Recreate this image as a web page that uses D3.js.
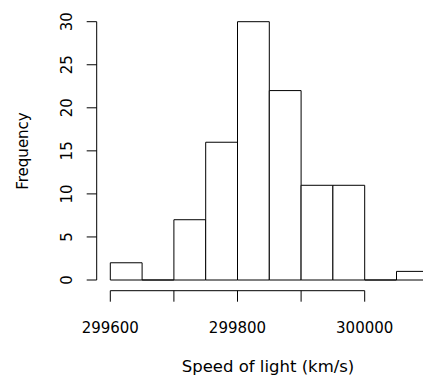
<!DOCTYPE html>
<html><head><meta charset="utf-8">
<script src="https://cdn.jsdelivr.net/npm/d3@7"></script>
<style>body{margin:0;background:#fff}svg{display:block}text{font-family:"DejaVu Sans",sans-serif;fill:#000}</style>
</head><body>
<script>
const binStarts = [299600,299650,299700,299750,299800,299850,299900,299950,300000,300050];
const binWidth = 50;
const counts = [2,0,7,16,30,22,11,11,0,1];
const xTicks = [299600,299700,299800,299900,300000];
const xTickLabels = ["299600","","299800","","300000"];
const yTicks = [0,5,10,15,20,25,30];
const xTitle = "Speed of light (km/s)";
const yTitle = "Frequency";

const W=423,H=376;
const svg=d3.select("body").append("svg").attr("width",W).attr("height",H);
const x=d3.scaleLinear().domain([299600,300000]).range([110.3,364.7]);
const y=d3.scaleLinear().domain([0,30]).range([280,21.7]);

// bars (paths so zero-count bins still show as a line)
svg.append("g").selectAll("path").data(binStarts.map((s,i)=>({s,c:counts[i]}))).join("path")
  .attr("d",d=>{const x0=x(d.s),x1=x(d.s+binWidth),y0=y(0),y1=y(d.c);
    return `M${x0},${y0}V${y1}H${x1}V${y0}Z`;})
  .attr("fill","#fff").attr("stroke","#000").attr("stroke-width",1);

// x axis
const gx=svg.append("g");
gx.append("line").attr("x1",x(xTicks[0])).attr("x2",x(xTicks[xTicks.length-1])).attr("y1",290.7).attr("y2",290.7).attr("stroke","#000");
gx.selectAll("line.t").data(xTicks).join("line").attr("class","t")
  .attr("x1",d=>x(d)).attr("x2",d=>x(d)).attr("y1",290.7).attr("y2",301.7).attr("stroke","#000");
gx.selectAll("text").data(xTicks).join("text")
  .attr("x",d=>x(d)).attr("y",333).attr("text-anchor","middle").attr("font-size",15)
  .text((d,i)=>xTickLabels[i]);

// y axis
const gy=svg.append("g");
gy.append("line").attr("x1",96.7).attr("x2",96.7).attr("y1",y(0)).attr("y2",y(30)).attr("stroke","#000");
gy.selectAll("line.t").data(yTicks).join("line").attr("class","t")
  .attr("x1",86.7).attr("x2",96.7).attr("y1",d=>y(d)).attr("y2",d=>y(d)).attr("stroke","#000");
gy.selectAll("text").data(yTicks).join("text")
  .attr("transform",d=>`translate(72,${y(d)}) rotate(-90)`).attr("text-anchor","middle").attr("font-size",15)
  .text(d=>d);

svg.append("text").attr("x",268).attr("y",372).attr("text-anchor","middle").attr("font-size",16.5).text(xTitle);
svg.append("text").attr("transform","translate(28,151) rotate(-90)").attr("text-anchor","middle").attr("font-size",15).text(yTitle);
</script>
</body></html>
